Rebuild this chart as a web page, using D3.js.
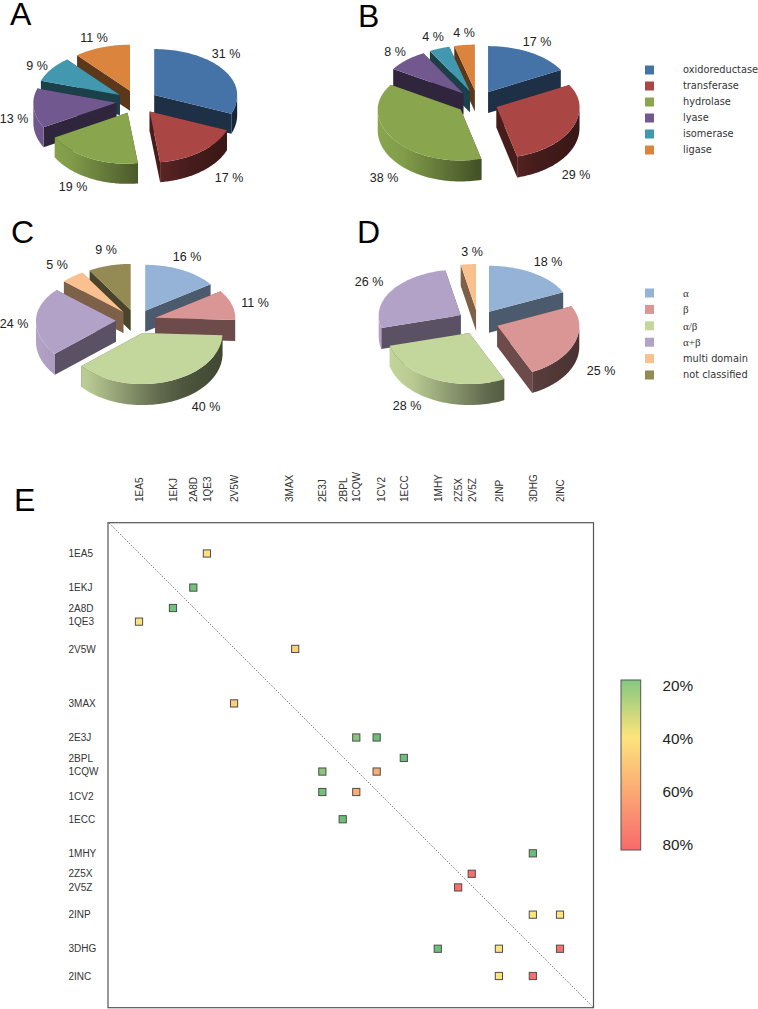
<!DOCTYPE html>
<html>
<head>
<meta charset="utf-8">
<script src="https://cdnjs.cloudflare.com/ajax/libs/d3/7.8.5/d3.min.js"></script>
<style>
    html, body { margin: 0; padding: 0; background: #fff; }
    svg { display: block; }
    text { font-family: "Liberation Sans", Arial, sans-serif; fill: #222; }
    .legend-text { font-family: "DejaVu Sans", Verdana, sans-serif; font-size: 9.8px; fill: #333; }
    .legend-greek { font-family: "Liberation Serif", serif; font-size: 11px; fill: #333; }
    .axis text { font-size: 10px; fill: #333; }
</style>
</head>
<body>
<div id="visualizer"></div>
<script>
"use strict";

// pie data, in percent as printed on the figure
var enzymeClasses = ["oxidoreductase", "transferase", "hydrolase", "lyase", "isomerase", "ligase"];
var foldClasses = ["\u03b1", "\u03b2", "\u03b1/\u03b2", "\u03b1+\u03b2", "multi domain", "not classified"];
var valuesA = [31, 17, 19, 13, 9, 11];
var valuesB = [17, 29, 38, 8, 4, 4];
var valuesC = [16, 11, 40, 24, 5, 9];
var valuesD = [18, 25, 28, 26, 3];

// similarity matrix, tick order with gaps coming from the tree
// 3MAX sits one step further along the columns than along the rows in the figure
var proteins = ["1EA5", "1EKJ", "2A8D", "1QE3", "2V5W", "3MAX", "2E3J", "2BPL", "1CQW",
    "1CV2", "1ECC", "1MHY", "2Z5X", "2V5Z", "2INP", "3DHG", "2INC"];
var rowOrder = [0, 5, 8, 10, 14, 22, 27, 30, 32, 35, 39, 44, 47, 49, 53, 58, 62];
var colOrder = [0, 5, 8, 10, 14, 23, 27, 30, 32, 35, 39, 44, 47, 49, 53, 58, 62];
var hitRow = ["1EA5", "1EKJ", "2A8D", "1QE3", "2V5W", "3MAX", "2E3J", "2E3J", "2BPL", "1CQW", "1CQW",
    "1CV2", "1CV2", "1ECC", "1MHY", "2Z5X", "2V5Z", "2INP", "2INP", "3DHG", "3DHG", "3DHG", "2INC", "2INC"];
var hitCol = ["1QE3", "2A8D", "1EKJ", "1EA5", "3MAX", "2V5W", "1CQW", "1CV2", "1ECC", "2E3J", "1CV2",
    "2E3J", "1CQW", "2BPL", "3DHG", "2V5Z", "2Z5X", "3DHG", "2INC", "1MHY", "2INP", "2INC", "2INP", "3DHG"];
var hitIdentity = [41, 21, 21, 41, 47, 47, 24, 20, 20, 24, 58,
    21, 58, 20, 20, 78, 78, 40, 40, 20, 40, 78, 40, 78];
var colorTicks = [20, 40, 60, 80];

var enzymeColors = ["#4572a7", "#aa4643", "#89a54e", "#71588f", "#4198af", "#db843d"];
var foldColors = ["#95b3d7", "#d99694", "#c3d69b", "#b3a2c7", "#fac090", "#948a54"];

var svg = d3.select("#visualizer").append("svg")
    .attr("width", 758)
    .attr("height", 1009);
var defs = svg.append("defs");

function scaleColor(color, k) {
    var c = d3.rgb(color);
    return d3.rgb(c.r * k, c.g * k, c.b * k).formatHex();
}

// the printed C labels sum to 105, d3.pie normalises them like the original did
var pieAngles = d3.pie().sort(null);

// one exploded 3D pie
function drawPie(g, id, values, colors, box, labelPos) {
    var rx = box.rx, ryBack = 46, ryFront = 51, explode = 0.25;

    function project(a, ox, oy, k) {
        var s = Math.sin(a), c = Math.cos(a);
        return [box.cx + ox + k * rx * s, box.cy + oy - k * c * (c > 0 ? ryBack : ryFront)];
    }

    function arcPoints(d, from, to) {
        return d3.range(0, 61).map(function(j) {
            return project(from + (to - from) * j / 60, d.ox, d.oy, 1);
        });
    }

    var slices = pieAngles(values).map(function(d, i) {
        var mid = (d.startAngle + d.endAngle) / 2;
        var tip = project(mid, 0, 0, explode);
        return {
            i: i, value: d.value, start: d.startAngle, end: d.endAngle, mid: mid,
            ox: tip[0] - box.cx, oy: tip[1] - box.cy
        };
    });

    // back slices first so the front ones paint over them
    var order = slices.slice().sort(function(a, b) { return Math.cos(b.mid) - Math.cos(a.mid); });

    var poly = d3.line();
    order.forEach(function(d) {
        var color = colors[d.i];
        var arc = arcPoints(d, d.start, d.end);
        var apex = project(0, d.ox, d.oy, 0);
        var drop = function(p) { return [p[0], p[1] + box.depth]; };
        var wallColor = scaleColor(color, box.wall);

        // two cut faces
        [arc[0], arc[60]].forEach(function(p) {
            g.append("path")
                .attr("d", poly([apex, p, drop(p), drop(apex)]) + "Z")
                .attr("fill", wallColor);
        });

        // outer wall, only the part that faces the viewer
        var rimFrom = Math.max(d.start, Math.PI / 2);
        var rimTo = Math.min(d.end, Math.PI * 1.5);
        if (rimFrom < rimTo) {
            var gradId = id + "-rim-" + d.i;
            var grad = defs.append("linearGradient")
                .attr("id", gradId)
                .attr("gradientUnits", "userSpaceOnUse")
                .attr("x1", box.cx + d.ox - rx).attr("x2", box.cx + d.ox + rx)
                .attr("y1", 0).attr("y2", 0);
            [[0, 1], [0.15, 0.95], [0.6, 0.5], [0.75, 0.4], [1, 0.33]].forEach(function(s) {
                grad.append("stop").attr("offset", s[0]).attr("stop-color", scaleColor(color, s[1]));
            });
            var rim = arcPoints(d, rimFrom, rimTo);
            g.append("path")
                .attr("d", poly(rim.concat(rim.map(drop).reverse())) + "Z")
                .attr("fill", "url(#" + gradId + ")");
        }

        // top
        g.append("path")
            .attr("d", poly([apex].concat(arc)) + "Z")
            .attr("fill", color);
    });

    g.selectAll("text.pct")
        .data(slices)
        .enter()
        .append("text")
        .attr("class", "pct")
        .attr("x", function(d) { return labelPos[d.i][0]; })
        .attr("y", function(d) { return labelPos[d.i][1]; })
        .attr("text-anchor", "middle")
        .attr("dominant-baseline", "central")
        .attr("font-size", 12.5)
        .text(function(d) { return d.value + " %"; });
}

drawPie(svg.append("g"), "a", valuesA, enzymeColors,
    { cx: 137, cy: 101.5, rx: 83, depth: 20, wall: 0.42 },
    [[226, 54], [229, 178], [73, 187], [14, 119], [37, 66], [94, 38]]);
drawPie(svg.append("g"), "b", valuesB, enzymeColors,
    { cx: 477.5, cy: 102, rx: 83, depth: 21, wall: 0.42 },
    [[537, 42], [576, 175], [384, 178], [395, 52], [433, 37], [464, 33]]);
drawPie(svg.append("g"), "c", valuesC, foldColors,
    { cx: 136, cy: 321, rx: 80, depth: 21, wall: 0.5 },
    [[187, 257], [255, 303], [206, 407], [14, 324], [57, 265], [106, 250]]);
drawPie(svg.append("g"), "d", valuesD, foldColors,
    { cx: 478, cy: 321.5, rx: 82, depth: 21, wall: 0.5 },
    [[548, 262], [601, 371], [407, 406], [369, 282], [472, 252]]);

// panel letters
svg.selectAll("text.panel")
    .data([["A", 10, 25], ["B", 358, 27], ["C", 11, 243], ["D", 357, 243], ["E", 14, 511]])
    .enter()
    .append("text")
    .attr("class", "panel")
    .attr("x", function(d) { return d[1]; })
    .attr("y", function(d) { return d[2]; })
    .attr("font-size", 32)
    .style("fill", "#000")
    .text(function(d) { return d[0]; });

// legends
function drawLegend(names, colors, yScale) {
    var items = svg.append("g").selectAll("g")
        .data(names)
        .enter()
        .append("g")
        .attr("transform", function(d) { return "translate(0," + yScale(d) + ")"; });
    items.append("rect")
        .attr("x", 645).attr("y", -4.5)
        .attr("width", 9).attr("height", 9)
        .attr("fill", function(d, i) { return colors[i]; });
    items.append("text")
        .attr("class", function(d) { return /multi|not/.test(d) || names === enzymeClasses ? "legend-text" : "legend-greek"; })
        .attr("x", 683)
        .attr("dy", "0.35em")
        .text(function(d) { return d; });
}
drawLegend(enzymeClasses, enzymeColors, d3.scalePoint().domain(enzymeClasses).range([70, 150]));
drawLegend(foldClasses, foldColors, d3.scalePoint().domain(foldClasses).range([293, 375]));

// matrix panel
var x = d3.scaleLinear().domain([0, 62]).range([139, 560]);
var y = d3.scaleLinear().domain([0, 62]).range([553.5, 976]);
var colPosition = d3.scaleOrdinal().domain(proteins).range(colOrder);
var rowPosition = d3.scaleOrdinal().domain(proteins).range(rowOrder);
var color = d3.scaleLinear().domain([20, 40, 80]).range(["#6cbf7a", "#fde47c", "#f8696b"]);

svg.append("line")
    .attr("x1", 109).attr("y1", 523)
    .attr("x2", 593).attr("y2", 1007)
    .attr("stroke", "#555")
    .attr("stroke-width", 1)
    .attr("stroke-dasharray", "1,1.6");

svg.append("rect")
    .attr("x", 108).attr("y", 522.7)
    .attr("width", 485.5).attr("height", 485)
    .attr("fill", "none")
    .attr("stroke", "#555")
    .attr("stroke-width", 1.2);

var colLabel = function(d) { return proteins[colOrder.indexOf(d)]; };
var rowLabel = function(d) { return proteins[rowOrder.indexOf(d)]; };

var topAxis = svg.append("g")
    .attr("class", "axis")
    .attr("transform", "translate(0,502)")
    .call(d3.axisTop(x).tickValues(colOrder).tickSize(0).tickFormat(colLabel));
topAxis.select(".domain").remove();
topAxis.selectAll("text")
    .attr("text-anchor", "start")
    .attr("dy", "0.35em")
    .attr("y", 0)
    .attr("transform", function(d) {
        // these two labels sit off their column in the figure
        var nudge = colLabel(d) === "3MAX" ? -6.5 : colLabel(d) === "1CV2" ? 4 : 0;
        return "translate(" + nudge + ",0) rotate(-90)";
    });

var leftAxis = svg.append("g")
    .attr("class", "axis")
    .attr("transform", "translate(68.5,0)")
    .call(d3.axisLeft(y).tickValues(rowOrder).tickSize(0).tickFormat(rowLabel));
leftAxis.select(".domain").remove();
leftAxis.selectAll("text")
    .attr("text-anchor", "start")
    .attr("x", 0)
    .attr("y", function(d) { return rowLabel(d) === "1CV2" ? 4 : 0; });

svg.append("g").selectAll("rect")
    .data(hitIdentity)
    .enter()
    .append("rect")
    .attr("x", function(d, i) { return x(colPosition(hitCol[i])) - 3.6; })
    .attr("y", function(d, i) { return y(rowPosition(hitRow[i])) - 3.6; })
    .attr("width", 7.2)
    .attr("height", 7.2)
    .attr("fill", function(d) { return color(d); })
    .attr("stroke", "#4d4d4d")
    .attr("stroke-width", 1);

// color bar
var barY = d3.scaleLinear().domain([20, 80]).range([680, 850]);
var barGrad = defs.append("linearGradient")
    .attr("id", "bar")
    .attr("x1", 0).attr("x2", 0).attr("y1", 0).attr("y2", 1);
colorTicks.forEach(function(t) {
    barGrad.append("stop")
        .attr("offset", (t - 20) / 60)
        .attr("stop-color", t === 20 ? "#84c780" : color(t));
});
svg.append("rect")
    .attr("x", 621).attr("y", barY(20))
    .attr("width", 19.7).attr("height", barY(80) - barY(20))
    .attr("fill", "url(#bar)")
    .attr("stroke", "#555")
    .attr("stroke-width", 1);

var tickY = d3.scaleLinear().domain([20, 80]).range([686, 845]);
svg.append("g").selectAll("text")
    .data(colorTicks)
    .enter()
    .append("text")
    .attr("x", 662.5)
    .attr("y", function(d) { return tickY(d); })
    .attr("dy", "0.35em")
    .attr("font-size", 15.3)
    .text(function(d) { return d + "%"; });
</script>
</body>
</html>
